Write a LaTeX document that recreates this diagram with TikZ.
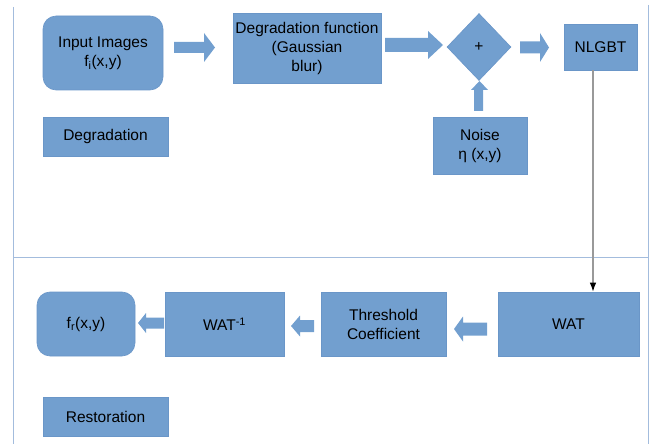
\documentclass[tikz,border=0pt]{standalone}
\usepackage{fontspec}
\setmainfont{Liberation Sans}
\usetikzlibrary{shapes.geometric,arrows.meta}
\definecolor{boxblue}{HTML}{729FCF}
\definecolor{boxedge}{HTML}{6A96C8}
\definecolor{frameline}{HTML}{A3BCDD}
\newcommand\harrow[6]{% tail, headbase, tip, cy, shafthalf, headhalf
  \fill[boxblue] (#1,#4-#5) -- (#2,#4-#5) -- (#2,#4-#6) -- (#3,#4) -- (#2,#4+#6) -- (#2,#4+#5) -- (#1,#4+#5) -- cycle;}
\begin{document}
\begin{tikzpicture}[x=1pt,y=-1pt,
  box/.style={draw=boxedge,fill=boxblue,line width=0.6pt,inner sep=2pt,align=center,
    font=\fontsize{15.5}{19}\selectfont,text=black},
  rbox/.style={box,rounded corners=13pt},
  conn/.style={draw=gray!80,line width=1.2pt,-{Latex[black,length=9pt,width=6.5pt]}}]
\useasboundingbox (0,0) rectangle (649,444);
\draw[frameline,line width=0.9pt] (13,7) -- (13,444);
\draw[frameline,line width=0.9pt] (648,5) -- (648,444);
\draw[frameline,line width=0.9pt] (13,257) -- (648,257);
% top row
\node[rbox,minimum width=120pt,minimum height=74pt] (input) at (103,53) {Input Images\\f\textsubscript{i}(x,y)};
\node[box,minimum width=125pt,minimum height=39pt] (degr) at (105.5,136.5) {Degradation};
\node[box,minimum width=148pt,minimum height=70pt,anchor=north,inner sep=0pt] (degf) at (307,13) {Degradation function\\(Gaussian\\blur)};
\node[box,shape=diamond,minimum width=64pt,minimum height=67pt,inner sep=0pt] (plus) at (479,47) {+};
\node[box,minimum width=94pt,minimum height=57pt,anchor=north,inner sep=1pt] (noise) at (480,117) {Noise\\η (x,y)};
\node[box,minimum width=73pt,minimum height=46pt] (nlgbt) at (600.5,47) {NLGBT};
% bottom row
\node[rbox,minimum width=98pt,minimum height=64pt] (fr) at (86,324) {f\textsubscript{r}(x,y)};
\node[box,minimum width=119pt,minimum height=64pt] (watinv) at (224.5,324) {WAT\textsuperscript{-1}};
\node[box,minimum width=125pt,minimum height=64pt] (thr) at (383.5,324) {Threshold\\Coefficient};
\node[box,minimum width=141pt,minimum height=64pt] (wat) at (568.5,324) {WAT};
\node[box,minimum width=125pt,minimum height=39pt] (rest) at (105.5,416.5) {Restoration};
% block arrows
\harrow{174}{204}{215}{47.5}{5.5}{14.5}
\harrow{385}{428}{443}{45}{7}{14}
\harrow{520}{540}{549}{47.5}{6}{14.5}
\fill[boxblue] (474,111) -- (474,90) -- (471,90) -- (479.5,81) -- (488,90) -- (483,90) -- (483,111) -- cycle;
\harrow{164}{146}{138}{323}{5.5}{10}
\harrow{314}{300}{291}{326}{6}{10.5}
\harrow{487}{463}{454}{329}{6.5}{12.5}
% connector
\coordinate (cstart) at ([xshift=-7.5pt]nlgbt.south);
\draw[conn] (cstart) -- (cstart |- wat.north);
\end{tikzpicture}
\end{document}
